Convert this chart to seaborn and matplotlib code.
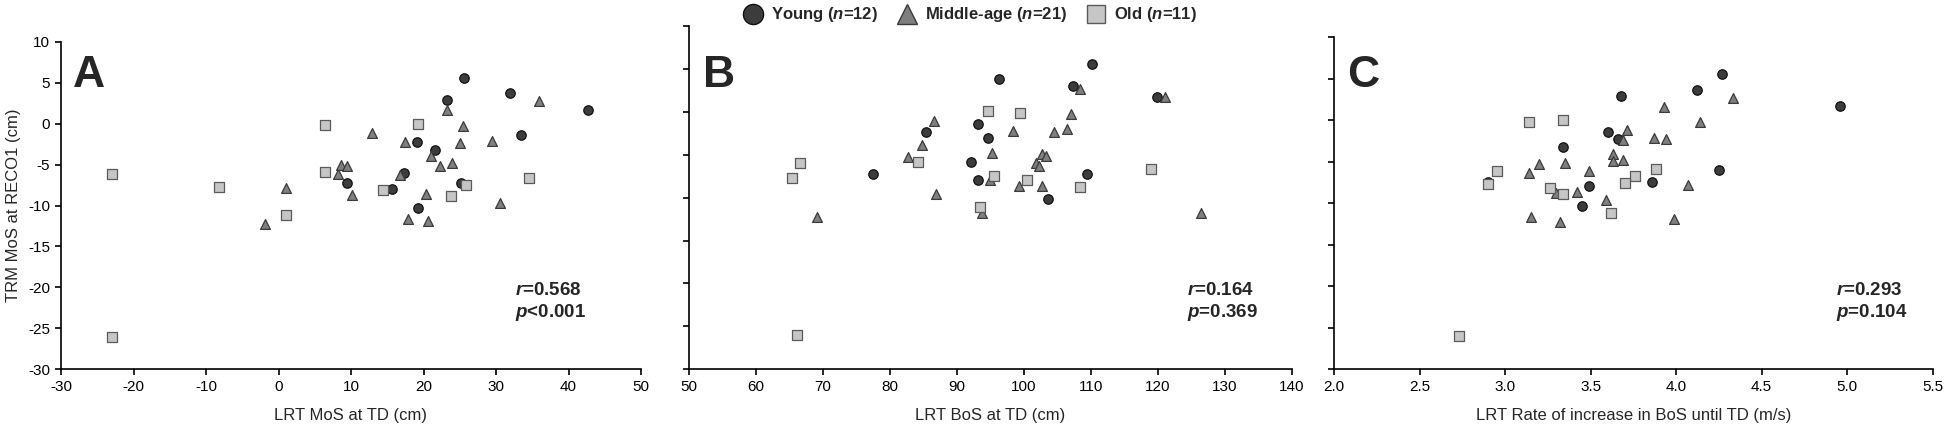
import numpy as np
import pandas as pd
import matplotlib
matplotlib.use("Agg")
import matplotlib.pyplot as plt
from matplotlib.lines import Line2D
from matplotlib.ticker import FormatStrFormatter
import seaborn as sns

# ---------------- data ----------------
groups = ["Young", "Middle-age", "Old"]
legend_labels = [r"Young ($\mathbfit{n}$=12)", r"Middle-age ($\mathbfit{n}$=21)", r"Old ($\mathbfit{n}$=11)"]

# Panel A: LRT MoS at TD (cm) vs TRM MoS at RECO1 (cm)
young_a_x = [25.6, 31.9, 23.2, 42.7, 33.4, 19.1, 21.6, 17.3, 9.5, 15.7, 25.2, 19.3]
young_a_y = [5.6, 3.7, 2.9, 1.7, -1.4, -2.3, -3.2, -6.0, -7.3, -8.0, -7.3, -10.3]
mid_a_x = [-1.8, 1.0, 8.2, 8.6, 9.4, 10.1, 35.9, 23.2, 25.4, 12.9, 17.5, 25.0, 29.5, 21.0, 22.3, 23.9, 16.8, 20.3, 30.5, 17.9, 20.6]
mid_a_y = [-12.3, -7.9, -6.1, -5.0, -5.2, -8.7, 2.7, 1.6, -0.3, -1.1, -2.2, -2.4, -2.1, -4.0, -5.2, -4.8, -6.3, -8.6, -9.7, -11.7, -11.9]
old_a_x = [-22.9, -22.9, -8.2, 1.0, 6.4, 6.4, 19.2, 14.4, 23.8, 25.9, 34.6]
old_a_y = [-6.1, -26.0, -7.7, -11.2, -0.2, -5.9, 0.0, -8.1, -8.9, -7.5, -6.7]

# Panel B: LRT BoS at TD (cm)
young_b_x = [77.5, 85.3, 110.2, 96.3, 107.4, 119.9, 93.1, 94.7, 92.1, 93.1, 109.4, 103.6]
young_b_y = [-7.3, -2.3, 5.6, 3.8, 3.0, 1.7, -1.4, -3.1, -5.9, -7.9, -7.3, -10.2]
mid_b_x = [69.1, 82.7, 84.7, 86.5, 86.8, 108.4, 121.1, 107.0, 98.3, 104.5, 106.4, 95.2, 102.7, 103.3, 101.8, 102.2, 94.9, 99.2, 102.7, 93.7, 126.4]
mid_b_y = [-12.2, -5.3, -3.9, -1.1, -9.6, 2.7, 1.7, -0.2, -2.2, -2.4, -2.0, -4.8, -4.9, -5.2, -6.0, -6.3, -7.9, -8.7, -8.6, -11.8, -11.8]
old_b_x = [66.5, 65.3, 66.1, 84.1, 94.6, 99.4, 95.6, 100.4, 108.4, 119.0, 93.4]
old_b_y = [-6.0, -7.7, -26.0, -5.9, 0.1, -0.1, -7.5, -8.0, -8.8, -6.7, -11.1]

# Panel C: LRT Rate of increase in BoS until TD (m/s)
young_c_x = [3.34, 2.90, 3.49, 3.45, 3.60, 4.27, 4.12, 3.68, 4.96, 3.66, 4.25, 3.86]
young_c_y = [-3.2, -7.4, -7.9, -10.3, -1.4, 5.6, 3.7, 2.9, 1.7, -2.3, -6.0, -7.4]
mid_c_x = [3.20, 3.14, 3.35, 3.49, 3.42, 3.30, 3.15, 3.32, 3.59, 4.33, 3.93, 4.14, 3.71, 3.69, 3.87, 3.94, 3.63, 3.63, 3.69, 4.07, 3.99]
mid_c_y = [-5.3, -6.3, -5.2, -6.1, -8.6, -8.8, -11.7, -12.3, -9.6, 2.7, 1.6, -0.2, -1.2, -2.4, -2.1, -2.2, -4.0, -4.9, -4.8, -7.8, -11.9]
old_c_x = [3.14, 3.34, 2.95, 2.90, 3.26, 3.34, 2.73, 3.88, 3.76, 3.70, 3.62]
old_c_y = [-0.2, 0.0, -6.1, -7.7, -8.1, -8.9, -26.0, -5.9, -6.7, -7.6, -11.2]

panel_letters = ["A", "B", "C"]
x_labels = ["LRT MoS at TD (cm)", "LRT BoS at TD (cm)", "LRT Rate of increase in BoS until TD (m/s)"]
y_label = "TRM MoS at RECO1 (cm)"
stat_r = ["0.568", "0.164", "0.293"]
stat_p = ["<0.001", "=0.369", "=0.104"]
x_ticks = [np.arange(-30, 51, 10), np.arange(50, 141, 10), np.arange(2.0, 5.51, 0.5)]
y_ticks = np.arange(-30, 11, 5)

# ---------------- style ----------------
sns.set_style("ticks")
plt.rcParams["font.family"] = ["Liberation Sans", "DejaVu Sans"]
plt.rcParams["axes.unicode_minus"] = False
plt.rcParams["mathtext.fontset"] = "custom"
plt.rcParams["mathtext.rm"] = "Liberation Sans"
plt.rcParams["mathtext.it"] = "Liberation Sans:italic"
plt.rcParams["mathtext.bf"] = "Liberation Sans:bold"
plt.rcParams["mathtext.bfit"] = "Liberation Sans:italic:bold"

face = {"Young": "#3c3c3c", "Middle-age": "#7f7f7f", "Old": "#c6c6c6"}
edge = {"Young": "#111111", "Middle-age": "#3a3a3a", "Old": "#5a5a5a"}
mark = {"Young": "o", "Middle-age": "^", "Old": "s"}
size = {"Young": 46, "Middle-age": 50, "Old": 44}

def make_df(yx, yy, mx, my, ox, oy):
    return pd.concat([
        pd.DataFrame({"x": yx, "y": yy, "group": "Young"}),
        pd.DataFrame({"x": mx, "y": my, "group": "Middle-age"}),
        pd.DataFrame({"x": ox, "y": oy, "group": "Old"}),
    ], ignore_index=True)

dfs = [
    make_df(young_a_x, young_a_y, mid_a_x, mid_a_y, old_a_x, old_a_y),
    make_df(young_b_x, young_b_y, mid_b_x, mid_b_y, old_b_x, old_b_y),
    make_df(young_c_x, young_c_y, mid_c_x, mid_c_y, old_c_x, old_c_y),
]

W, H = 1946, 426
fig = plt.figure(figsize=(W / 100, H / 100), dpi=100)
boxes = [
    (61, 41.7, 641, 369.3),
    (689.3, 26, 1291.6, 369.3),
    (1334, 37.3, 1932.7, 369.3),
]
letter_x = [73, 703, 1347]
stat_x = [515, 1187, 1836]

for i, df in enumerate(dfs):
    l, t, r, b = boxes[i]
    ax = fig.add_axes([l / W, 1 - b / H, (r - l) / W, (b - t) / H])
    for g in groups:
        sub = df[df["group"] == g]
        sns.scatterplot(data=sub, x="x", y="y", ax=ax, marker=mark[g], s=size[g],
                        color=face[g], edgecolor=edge[g], linewidth=0.9, legend=False,
                        zorder=3)
    xt = x_ticks[i]
    ax.set_xlim(xt[0], xt[-1])
    ax.set_ylim(-30, 10)
    ax.set_xticks(xt)
    ax.set_yticks(y_ticks)
    if i == 2:
        ax.xaxis.set_major_formatter(FormatStrFormatter("%.1f"))
    if i == 0:
        ax.set_ylabel(y_label, fontsize=12, labelpad=5)
    else:
        ax.set_yticklabels([])
        ax.set_ylabel("")
    ax.set_xlabel(x_labels[i], fontsize=12, labelpad=10)
    sns.despine(ax=ax)
    for sp in ["left", "bottom"]:
        ax.spines[sp].set_linewidth(1.2)
        ax.spines[sp].set_color("black")
    ax.tick_params(axis="both", direction="out", length=4, width=1.2, labelsize=11,
                   colors="black", pad=4)
    ax.set_facecolor("white")

    fig.text(letter_x[i] / W, 1 - 87 / H, panel_letters[i], fontsize=32,
             fontweight="bold", ha="left", va="baseline")
    fig.text(stat_x[i] / W, 1 - 295 / H, r"$\mathbfit{r}$=" + stat_r[i], fontsize=13.5,
             fontweight="bold", ha="left", va="baseline")
    fig.text(stat_x[i] / W, 1 - 317 / H, r"$\mathbfit{p}$" + stat_p[i], fontsize=13.5,
             fontweight="bold", ha="left", va="baseline")

handles = [Line2D([], [], linestyle="none", marker=mark[g], markersize=14.5 if g != "Old" else 13.5,
                  markerfacecolor=face[g], markeredgecolor=edge[g], markeredgewidth=1.0)
           for g in groups]
fig.legend(handles, legend_labels, loc="center", bbox_to_anchor=(970 / W, 1 - 15 / H),
           ncol=3, frameon=False, prop={"family": "Liberation Sans", "weight": "bold", "size": 12},
           handletextpad=0.5, columnspacing=1.1, handlelength=1.2)

fig.savefig("out.png", dpi=100, facecolor="white")
